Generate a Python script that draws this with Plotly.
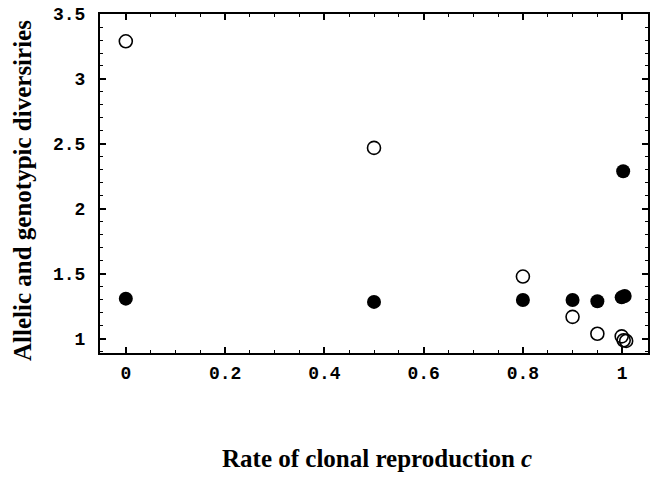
import plotly.graph_objects as go

# Data
open_x = [0.0, 0.5, 0.8, 0.9, 0.95, 0.999, 1.003, 1.008]
open_y = [3.29, 2.47, 1.48, 1.17, 1.04, 1.02, 0.99, 0.985]

filled_x = [0.0, 0.5, 0.8, 0.9, 0.95, 0.999, 1.005, 1.002]
filled_y = [1.31, 1.285, 1.30, 1.30, 1.29, 1.32, 1.33, 2.29]

x_ticks = [0, 0.2, 0.4, 0.6, 0.8, 1]
x_ticklabels = ["0", "0.2", "0.4", "0.6", "0.8", "1"]
y_ticks = [1, 1.5, 2, 2.5, 3, 3.5]
y_ticklabels = ["1", "1.5", "2", "2.5", "3", "3.5"]

tickfont = dict(family="Liberation Mono, Courier New, monospace", size=18, color="black", weight="bold")
titlefont = dict(family="Liberation Serif, Times New Roman, serif", size=25, color="black")

fig = go.Figure()
fig.add_trace(go.Scatter(
    x=filled_x, y=filled_y, mode="markers",
    marker=dict(symbol="circle", size=14, color="black"),
    showlegend=False, cliponaxis=False,
))
fig.add_trace(go.Scatter(
    x=open_x, y=open_y, mode="markers",
    marker=dict(symbol="circle-open", size=13, color="black", line=dict(width=1.6)),
    showlegend=False, cliponaxis=False,
))

axis_common = dict(
    showline=True, linecolor="black", linewidth=2, mirror="ticks",
    ticks="inside", ticklen=6, tickwidth=1.5, tickcolor="black",
    showgrid=False, zeroline=False, tickfont=tickfont,
)

fig.update_xaxes(
    range=[-0.052, 1.052], tickvals=x_ticks, ticktext=x_ticklabels,
    minor=dict(ticks="inside", ticklen=3, tickwidth=1, tickcolor="black", dtick=0.05, tick0=0),
    ticklabelstandoff=2,
    **axis_common,
)
fig.update_yaxes(
    range=[0.892, 3.5], tickvals=y_ticks, ticktext=y_ticklabels,
    minor=dict(ticks="inside", ticklen=3, tickwidth=1, tickcolor="black", dtick=0.1, tick0=0),
    ticklabelstandoff=9,
    **axis_common,
)

fig.add_annotation(
    text="<b>Allelic and genotypic diversiries</b>", textangle=-90,
    xref="paper", yref="paper", x=-0.141, y=0.48, xanchor="center", yanchor="middle",
    showarrow=False, font=titlefont,
)
fig.add_annotation(
    text="<b>Rate of clonal reproduction <i>c</i></b>",
    xref="paper", yref="paper", x=0.505, y=-0.31, xanchor="center", yanchor="middle",
    showarrow=False, font=titlefont,
)

fig.update_layout(
    width=653, height=493,
    margin=dict(l=100, r=3, t=14, b=140),
    paper_bgcolor="white", plot_bgcolor="white",
)

fig.write_html("out.html")
